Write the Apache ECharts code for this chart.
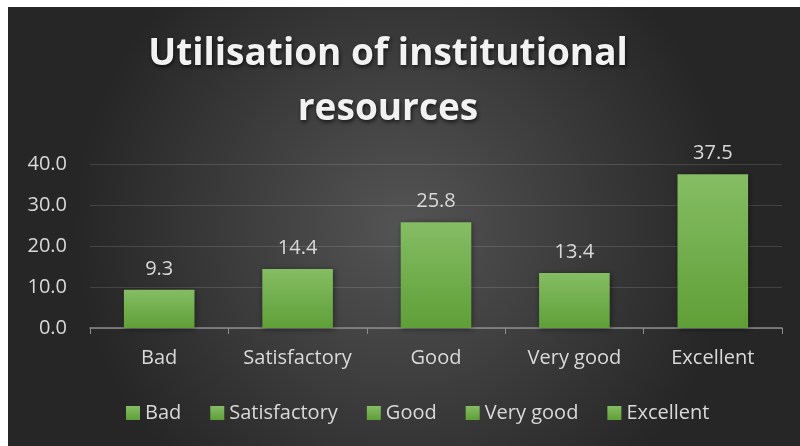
<!DOCTYPE html>
<html>
<head>
<meta charset="utf-8">
<script src="https://cdn.jsdelivr.net/npm/echarts@6/dist/echarts.min.js"></script>
<style>
  html, body { margin: 0; padding: 0; background: #fff; }
  #chart { position: absolute; left: 8px; top: 7px; width: 792px; height: 439px; }
</style>
</head>
<body>
<div id="chart"></div>
<script>
// chart data
const categories = ['Bad', 'Satisfactory', 'Good', 'Very good', 'Excellent']
const values = [9.3, 14.4, 25.8, 13.4, 37.5]
const yTicks = { min: 0, max: 40, interval: 10 }

const textColor = '#d9d9d9'
const fontFamily = '"Open Sans", sans-serif'

const barColor = new echarts.graphic.LinearGradient(0, 0, 0, 1, [
  { offset: 0, color: '#85bd64' },
  { offset: 1, color: '#5f9f37' }
])

// one series per category so every category gets its own legend entry
const series = categories.map((name, i) => ({
  name,
  type: 'bar',
  stack: 'all',
  barWidth: '51%',
  data: categories.map((c, j) => (j === i ? values[i] : null)),
  itemStyle: {
    color: barColor,
    shadowColor: 'rgba(0,0,0,0.45)',
    shadowBlur: 6,
    shadowOffsetX: 1,
    shadowOffsetY: 1
  },
  label: {
    show: true,
    position: 'top',
    distance: 11,
    color: textColor,
    fontSize: 20,
    fontFamily,
    formatter: p => (p.value == null ? '' : p.value.toFixed(1))
  }
}))

const chart = echarts.init(document.getElementById('chart'))
chart.setOption({
  backgroundColor: {
    type: 'radial',
    x: 0.5,
    y: 0.5,
    r: 0.75,
    colorStops: [
      { offset: 0, color: '#545454' },
      { offset: 1, color: '#262626' }
    ]
  },
  title: {
    text: 'Utilisation of institutional\nresources',
    left: 375,
    textAlign: 'center',
    top: 15,
    textStyle: {
      color: '#f2f2f2',
      fontFamily,
      fontWeight: 'bold',
      fontSize: 37,
      lineHeight: 55,
      textShadowColor: 'rgba(0,0,0,0.7)',
      textShadowBlur: 4,
      textShadowOffsetX: 1,
      textShadowOffsetY: 2
    }
  },
  legend: {
    bottom: 18,
    left: 113,
    itemWidth: 14,
    itemHeight: 14,
    itemGap: 29,
    icon: 'rect',
    textStyle: { color: textColor, fontSize: 20, fontFamily }
  },
  grid: { left: 82, right: 18, top: 157, bottom: 118 },
  xAxis: {
    type: 'category',
    data: categories,
    axisLine: { lineStyle: { color: '#8c8c8c', width: 1.5 } },
    axisTick: { show: true, length: 6, lineStyle: { color: '#8c8c8c' } },
    axisLabel: { color: textColor, fontSize: 20, fontFamily, margin: 20, interval: 0 }
  },
  yAxis: {
    type: 'value',
    min: yTicks.min,
    max: yTicks.max,
    interval: yTicks.interval,
    axisLine: { show: false },
    axisTick: { show: false },
    splitLine: { lineStyle: { color: 'rgba(255,255,255,0.13)', width: 1 } },
    axisLabel: {
      color: textColor,
      fontSize: 20,
      fontFamily,
      margin: 23,
      formatter: v => v.toFixed(1)
    }
  },
  series
})
</script>
</body>
</html>
